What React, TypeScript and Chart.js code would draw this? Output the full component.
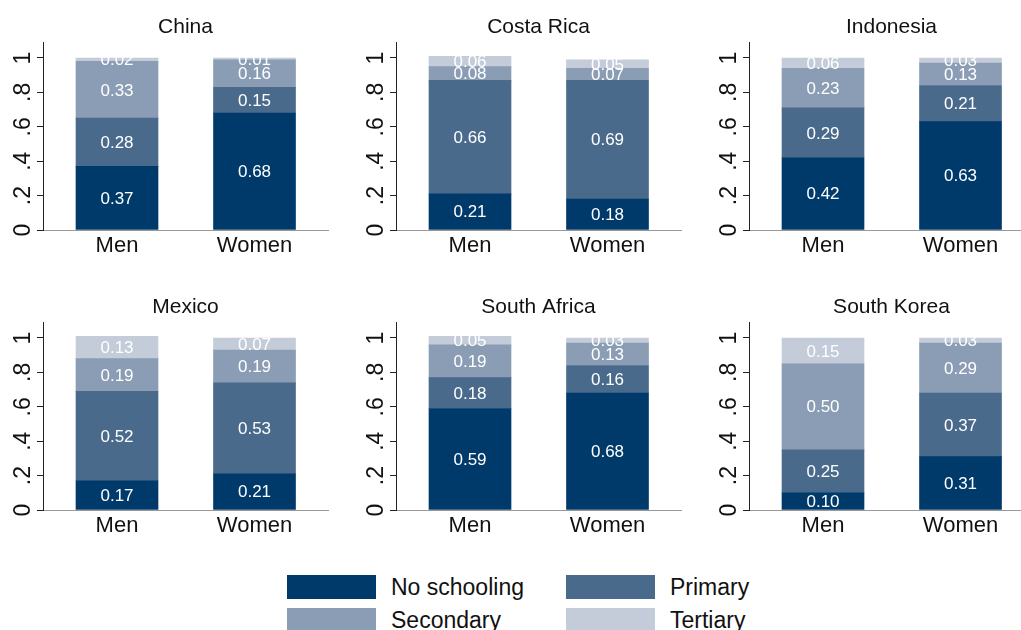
import React, { useEffect, useRef } from "react";
import { Chart, registerables } from "chart.js";

Chart.register(...registerables);

const FONT = '"Liberation Sans", Arial, Helvetica, sans-serif';

const countries = ["China", "Costa Rica", "Indonesia", "Mexico", "South Africa", "South Korea"];
const genders = ["Men", "Women"];
const levels = ["No schooling", "Primary", "Secondary", "Tertiary"];
const levelColors = ["#003a6b", "#4a6a8c", "#8a9db4", "#c3ccd8"];

// [Men, Women] per country, same order as countries
const noSchooling = [[0.37, 0.68], [0.21, 0.18], [0.42, 0.63], [0.17, 0.21], [0.59, 0.68], [0.10, 0.31]];
const primary = [[0.28, 0.15], [0.66, 0.69], [0.29, 0.21], [0.52, 0.53], [0.18, 0.16], [0.25, 0.37]];
const secondary = [[0.33, 0.16], [0.08, 0.07], [0.23, 0.13], [0.19, 0.19], [0.19, 0.13], [0.50, 0.29]];
const tertiary = [[0.02, 0.01], [0.06, 0.05], [0.06, 0.03], [0.13, 0.07], [0.05, 0.03], [0.15, 0.03]];

const yTickValues = [0, 0.2, 0.4, 0.6, 0.8, 1];
const yTickLabels = ["0", ".2", ".4", ".6", ".8", "1"];

const seriesByLevel = [noSchooling, primary, secondary, tertiary];

function makePlugin(title: string) {
  return {
    id: "panelDecor",
    afterDatasetsDraw(chart: any) {
      const ctx = chart.ctx;
      ctx.save();
      ctx.fillStyle = "#ffffff";
      ctx.font = `17px ${FONT}`;
      ctx.textAlign = "center";
      ctx.textBaseline = "middle";
      chart.data.datasets.forEach((ds: any, i: number) => {
        const meta = chart.getDatasetMeta(i);
        meta.data.forEach((el: any, j: number) => {
          const v = ds.data[j] as number;
          const { x, y, base } = el.getProps(["x", "y", "base"], true);
          ctx.fillText(v.toFixed(2), x, (y + base) / 2 + 1);
        });
      });
      ctx.restore();
    },
    afterDraw(chart: any) {
      const ctx = chart.ctx;
      const area = chart.chartArea;
      ctx.save();
      ctx.fillStyle = "#111111";
      ctx.font = `21px ${FONT}`;
      ctx.textAlign = "center";
      ctx.textBaseline = "middle";
      ctx.fillText(title, (area.left + area.right) / 2, 27);
      const ys = chart.scales.y;
      ctx.font = `23px ${FONT}`;
      yTickValues.forEach((v, k) => {
        const py = ys.getPixelForValue(v);
        ctx.save();
        ctx.translate(24, py);
        ctx.rotate(-Math.PI / 2);
        ctx.textAlign = "center";
        ctx.textBaseline = "middle";
        ctx.fillText(yTickLabels[k], 0, 0);
        ctx.restore();
      });
      ctx.restore();
    },
  };
}

function Panel({ index }: { index: number }) {
  const ref = useRef<HTMLCanvasElement | null>(null);
  useEffect(() => {
    if (!ref.current) return;
    const datasets = levels.map((lvl, li) => ({
      label: lvl,
      data: seriesByLevel[li][index],
      backgroundColor: levelColors[li],
      borderWidth: 0,
      barThickness: 82,
    }));
    const chart = new Chart(ref.current, {
      type: "bar",
      data: { labels: genders, datasets },
      options: {
        animation: false,
        responsive: false,
        maintainAspectRatio: false,
        layout: { padding: { top: 42, right: 25, left: 0, bottom: 0 } },
        plugins: { legend: { display: false }, tooltip: { enabled: false }, title: { display: false } },
        scales: {
          x: {
            type: "category",
            stacked: true,
            offset: true,
            grid: { display: false, drawTicks: false },
            border: { display: true, color: "#999999", width: 1 },
            ticks: { color: "#111111", font: { family: FONT, size: 22 }, padding: 3 },
            afterBuildTicks: (s: any) => {
              // slightly wider outer margins than the default half-category offset
              s._valueRange = 2.0727;
              s._startValue = -0.5382;
            },
            afterFit: (s: any) => {
              s.height = 40;
            },
          },
          y: {
            type: "linear",
            stacked: true,
            min: 0,
            max: 1.093,
            afterBuildTicks: (s: any) => {
              s.ticks = yTickValues.map((v) => ({ value: v }));
            },
            afterFit: (s: any) => {
              s.width = 43;
            },
            grid: { display: true, drawOnChartArea: false, drawTicks: true, tickLength: 6, color: "#222222" },
            border: { display: true, color: "#222222", width: 1 },
            ticks: { color: "rgba(0,0,0,0)", font: { family: FONT, size: 12 } },
          },
        },
      },
      plugins: [makePlugin(countries[index])],
    } as any);
    return () => chart.destroy();
  }, [index]);
  const col = index % 3;
  const row = Math.floor(index / 3);
  return (
    <canvas
      ref={ref}
      width={353}
      height={270}
      style={{ position: "absolute", left: col * 353, top: row * 280, width: 353, height: 270, display: "block" }}
    />
  );
}

export default function App() {
  const legendPos = [
    { x: 287, y: 575 },
    { x: 566, y: 575 },
    { x: 287, y: 608 },
    { x: 566, y: 608 },
  ];
  return (
    <div
      style={{
        position: "fixed",
        left: 0,
        top: 0,
        width: 1021,
        height: 630,
        overflow: "hidden",
        background: "#ffffff",
      }}
    >
      {countries.map((c, i) => (
        <Panel key={c} index={i} />
      ))}
      {levels.map((lvl, i) => (
        <React.Fragment key={lvl}>
          <div
            style={{
              position: "absolute",
              left: legendPos[i].x,
              top: legendPos[i].y,
              width: 89,
              height: 24,
              background: levelColors[i],
            }}
          />
          <div
            style={{
              position: "absolute",
              left: legendPos[i].x + 104,
              top: legendPos[i].y - 2,
              height: 28,
              lineHeight: "28px",
              fontFamily: FONT,
              fontSize: 23,
              color: "#111111",
              whiteSpace: "nowrap",
            }}
          >
            {lvl}
          </div>
        </React.Fragment>
      ))}
    </div>
  );
}
